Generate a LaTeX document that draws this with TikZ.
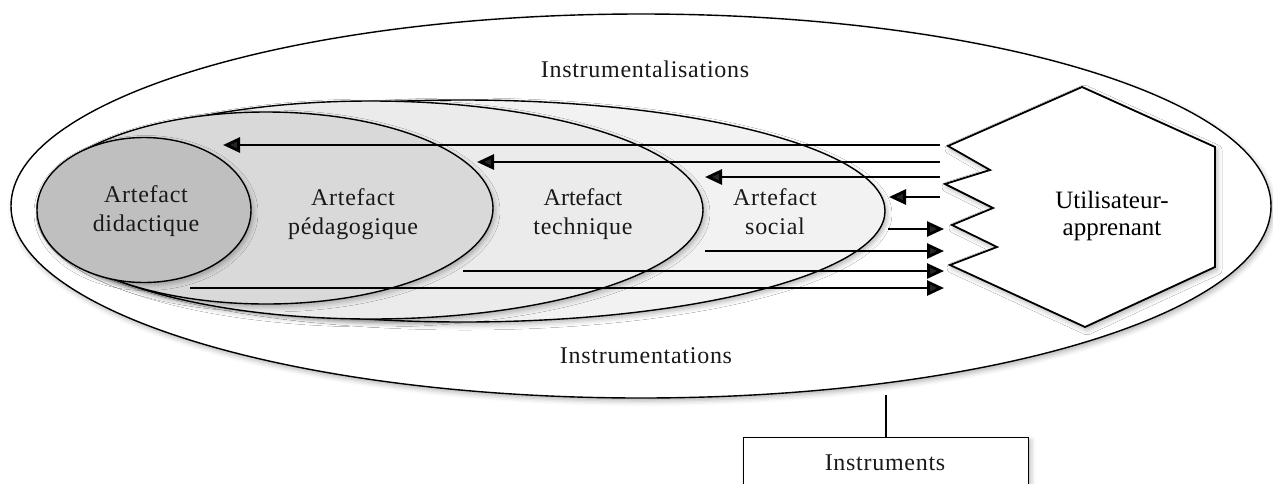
\documentclass[tikz,border=0pt]{standalone}
\usepackage{fontspec}
\setmainfont{Liberation Serif}[LetterSpace=3]
\newfontfamily\tnr{Liberation Serif}
\usetikzlibrary{shapes.geometric,arrows.meta,shadows.blur}
\begin{document}
\begin{tikzpicture}[x=1pt,y=-1pt,
  shd/.style={blur shadow={shadow xshift=2pt,shadow yshift=-3pt,shadow blur radius=5pt,shadow opacity=30}},
  ell/.style={ellipse,draw=black,line width=1.4pt,inner sep=0pt,shd},
  lbl/.style={font=\fontsize{24}{29}\selectfont,align=center,inner sep=0pt,text=black!90},
  arr/.style={line width=2.8pt,-{Triangle[length=17pt,width=15pt]}},
  box/.style={draw=black,line width=1.3pt,fill=white,minimum width=285pt,minimum height=80pt,inner sep=0pt,shd}]
\clip (0,0) rectangle (1273,483);
% Instruments box and its connector (drawn first, the ellipse hides the inner part)
\node[box,anchor=north west] (instr) at (743,437) {};
\node[lbl] (instrtxt) at (885,463) {Instruments};
\draw[line width=1.5pt] (instr.north) -- (instr.north |- 0,395);
% outer ellipse
\node[ell,fill=white,minimum width=1260pt,minimum height=384pt] (outer) at (641,206) {};
\node[lbl] (instal) at (645,69) {Instrumentalisations};
\node[lbl] (instat) at (646,356) {Instrumentations};
% nested ellipses
\node[ell,fill=black!5,minimum width=844pt,minimum height=222pt] (social) at (463,211) {};
\node[ell,fill=black!8,minimum width=664pt,minimum height=218pt] (techn) at (371,210) {};
\node[ell,fill=black!15,minimum width=454pt,minimum height=192pt] (pedag) at (266,208) {};
\node[ell,fill=black!25,minimum width=214pt,minimum height=145pt] (didac) at (144,210) {};
% hexagon user
\draw[line width=1.8pt,fill=white,shd,line join=miter]
  (1082,87) -- (948,146) -- (990,170) -- (945,184) -- (993,208) -- (952,225)
  -- (997,247) -- (950,265) -- (1085,327) -- (1215,267) -- (1215,147) -- cycle;
\node[font=\tnr\fontsize{25}{27}\selectfont,align=center,inner sep=0pt] (user) at (1112,216) {Utilisateur-\\apprenant};
% arrow end points
\coordinate (l1a) at (940,145); \coordinate (l1b) at (223,145);
\coordinate (l2a) at (940,162); \coordinate (l2b) at (477,162);
\coordinate (l3a) at (940,177); \coordinate (l3b) at (705,177);
\coordinate (l4a) at (940,197); \coordinate (l4b) at (889,197);
\coordinate (r1a) at (888,229); \coordinate (r1b) at (944,229);
\coordinate (r2a) at (705,251); \coordinate (r2b) at (944,251);
\coordinate (r3a) at (463,271); \coordinate (r3b) at (944,271);
\coordinate (r4a) at (190,288); \coordinate (r4b) at (944,288);
\foreach \p in {l1,l2,l3,l4,r1,r2,r3,r4} { \draw[arr] (\p a) -- (\p b); }
% labels
\node[lbl] (tdidac) at (146,211) {Artefact\\didactique};
\node[lbl] (tpedag) at (353,214) {Artefact\\pédagogique};
\node[lbl] (ttechn) at (583,214) {{\tnr Artefact}\\technique};
\node[lbl] (tsocial) at (775,212) {Artefact\\social};
\end{tikzpicture}
\end{document}
